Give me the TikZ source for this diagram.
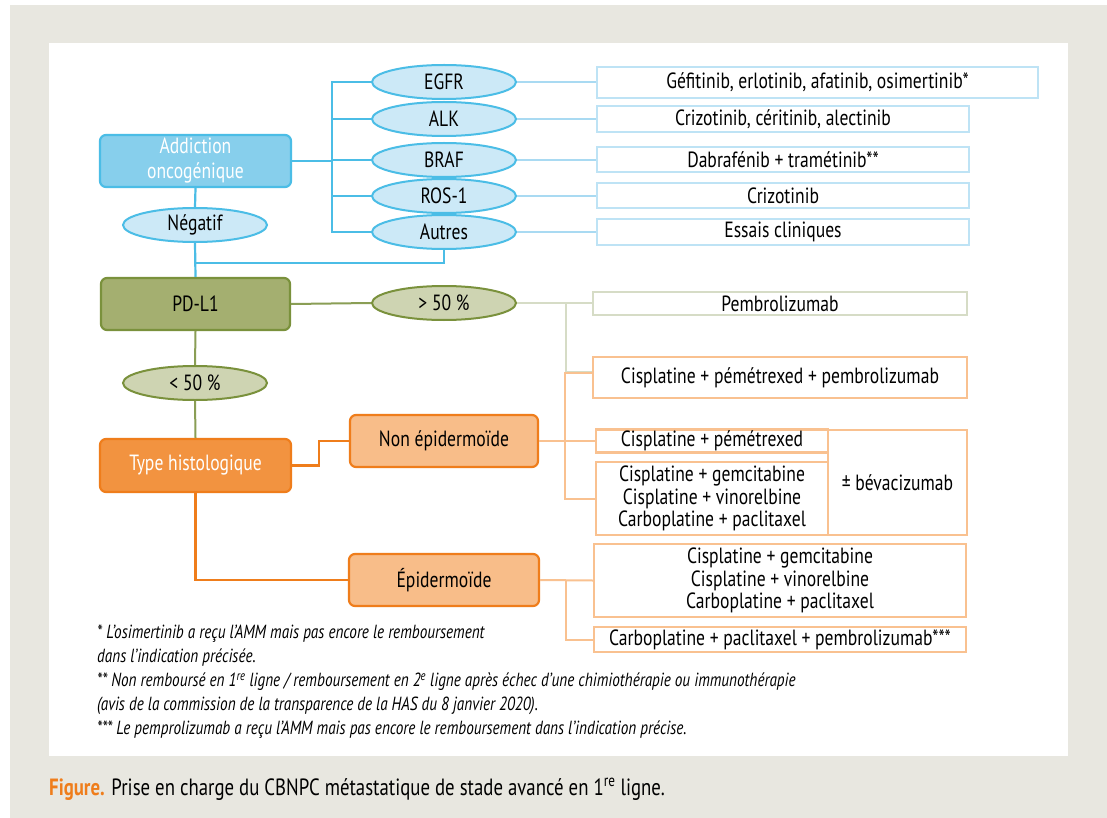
\documentclass[tikz,border=0pt]{standalone}
\usepackage{fontspec}
\setmainfont{PT Sans}[FakeStretch=0.8]
\usetikzlibrary{shapes.geometric}
\definecolor{bggray}{HTML}{E8E7E0}
\definecolor{cyanline}{HTML}{4BBDE6}
\definecolor{cyanfill}{HTML}{87CFEC}
\definecolor{cyanell}{HTML}{CCE9F7}
\definecolor{lbline}{HTML}{A9DAF2}
\definecolor{lbbox}{HTML}{BEE3F5}
\definecolor{olivefill}{HTML}{A4AF70}
\definecolor{olivedraw}{HTML}{7A913C}
\definecolor{olivell}{HTML}{CED4B2}
\definecolor{oliveline}{HTML}{8A9E55}
\definecolor{ggline}{HTML}{D6DCC6}
\definecolor{orgdraw}{HTML}{EF7D1B}
\definecolor{orgfill}{HTML}{F29340}
\definecolor{orglight}{HTML}{F8BD89}
\definecolor{orgbox}{HTML}{F9C190}
\newcommand{\mainfs}{\fontsize{22}{22.5}\selectfont}
\begin{document}
\begin{tikzpicture}[x=1pt,y=-1pt,
  every node/.style={inner sep=0pt, align=center, font=\mainfs},
  catbox/.style={rectangle, rounded corners=6pt, line width=2.2pt},
  ellbox/.style={ellipse, draw, line width=2pt, minimum width=144pt, minimum height=34pt},
  resbox/.style={rectangle, draw, fill=white, line width=2.4pt},
  blueres/.style={resbox, draw=lbbox},
  orgres/.style={resbox, draw=orgbox},
  blueconn/.style={draw=cyanline, line width=2.2pt},
  lbconn/.style={draw=lbline, line width=1.6pt},
  oliveconn/.style={draw=oliveline, line width=2pt},
  ggconn/.style={draw=ggline, line width=2pt},
  orgconn/.style={draw=orgdraw, line width=2.2pt},
  lorgconn/.style={draw=orgbox, line width=2pt}]
\useasboundingbox (0,0) rectangle (1107,818);
\fill[bggray] (10,5) rectangle (1107,818);
\fill[white] (49,43) rectangle (1068,756);

\coordinate (tr) at (332,0);
\coordinate (jn) at (196,263);

% ---- nodes
\node[catbox, draw=cyanline, fill=cyanfill, text=white, minimum width=191pt, minimum height=52pt, font=\fontsize{22}{25}\selectfont] (add) at (195.5,161) {Addiction\\oncogénique};
\node[ellbox, draw=cyanline, fill=cyanell] (neg) at (195,225) {Négatif};
\node[catbox, draw=olivedraw, fill=olivefill, minimum width=189pt, minimum height=52pt] (pdl) at (195.5,304) {PD-L1};
\node[ellbox, draw=olivedraw, fill=olivell] (lt) at (195,383) {< 50 \%};
\node[catbox, draw=orgdraw, fill=orgfill, text=white, minimum width=191pt, minimum height=53pt] (typ) at (195.5,465.5) {Type histologique};
\node[catbox, draw=orgdraw, fill=orglight, minimum width=188pt, minimum height=52pt] (non) at (444,441) {Non épidermoïde};
\node[catbox, draw=orgdraw, fill=orglight, minimum width=190pt, minimum height=52pt] (epi) at (444,580) {Épidermoïde};
\node[ellbox, draw=olivedraw, fill=olivell] (gt) at (444,303) {> 50 \%};

\node[ellbox, draw=cyanline, fill=cyanell] (egfr) at (444,82) {EGFR};
\node[ellbox, draw=cyanline, fill=cyanell] (alk) at (444,119) {ALK};
\node[ellbox, draw=cyanline, fill=cyanell] (braf) at (444,160) {BRAF};
\node[ellbox, draw=cyanline, fill=cyanell] (ros) at (444,196) {ROS-1};
\node[ellbox, draw=cyanline, fill=cyanell] (aut) at (444,232) {Autres};

\node[blueres, minimum width=441pt, minimum height=31pt] (regfr) at (817.5,82.5) {Géfitinib, erlotinib, afatinib, osimertinib*};
\node[blueres, minimum width=372pt, minimum height=26pt] (ralk) at (783,119) {Crizotinib, céritinib, alectinib};
\node[blueres, minimum width=372pt, minimum height=25pt] (rbraf) at (783,159.5) {Dabrafénib + tramétinib**};
\node[blueres, minimum width=372pt, minimum height=25pt] (rros) at (783,195.5) {Crizotinib};
\node[blueres, minimum width=372pt, minimum height=26pt] (raut) at (783,232) {Essais cliniques};

\node[resbox, draw=ggline, minimum width=374pt, minimum height=23pt] (pem) at (780,303.5) {Pembrolizumab};
\node[orgres, minimum width=374pt, minimum height=41pt] (cpp) at (780,377.5) {Cisplatine + pémétrexed + pembrolizumab};
\node[orgres, minimum width=232pt, minimum height=23pt] (cp) at (712,441) {Cisplatine + pémétrexed};
\node[orgres, minimum width=232pt, minimum height=73pt] (gem) at (712,498.5) {Cisplatine + gemcitabine\\Cisplatine + vinorelbine\\Carboplatine + paclitaxel};
\node[orgres, minimum width=139pt, minimum height=105pt] (bev) at (897.5,482.5) {± bévacizumab};
\node[orgres, minimum width=372pt, minimum height=73pt] (gemb) at (780,580.5) {Cisplatine + gemcitabine\\Cisplatine + vinorelbine\\Carboplatine + paclitaxel};
\node[orgres, minimum width=372pt, minimum height=25pt] (ppp) at (780,639.5) {Carboplatine + paclitaxel + pembrolizumab***};

% ---- connectors
\path[blueconn] (add.east) -- (add.east -| tr);
\path[blueconn] (egfr.west) -- (egfr.west -| tr) -- (aut.west -| tr) -- (aut.west);
\path[blueconn] (alk.west) -- (alk.west -| tr);
\path[blueconn] (braf.west) -- (braf.west -| tr);
\path[blueconn] (ros.west) -- (ros.west -| tr);
\path[blueconn] (add.south) -- (neg.north);
\path[blueconn] (neg.south) -- (pdl.north);
\path[blueconn] (aut.south) |- (jn);

\path[lbconn] (egfr.east) -- (egfr.east -| regfr.west);
\path[lbconn] (alk.east) -- (alk.east -| ralk.west);
\path[lbconn] (braf.east) -- (braf.east -| rbraf.west);
\path[lbconn] (ros.east) -- (ros.east -| rros.west);
\path[lbconn] (aut.east) -- (aut.east -| raut.west);

\path[oliveconn] (pdl.east) -- (gt.west);
\path[oliveconn] (pdl.south) -- (lt.north);
\path[oliveconn] (lt.south) -- (typ.north);

\path[ggconn] (gt.east) -- (gt.east -| pem.west);
\path[ggconn] ([xshift=-26pt]pem.west) |- ([yshift=6pt]cpp.west);

\path[orgconn] (typ.east) -- ++(27,0) |- (non.west);
\path[orgconn] (typ.south) |- (epi.west);

\path[lorgconn] (non.east) -- (cp.west);
\path[lorgconn] ([yshift=5pt]cpp.west) -- ++(-27,0) |- (gem.west);
\path[lorgconn] (epi.east) -- (gemb.west);
\path[lorgconn] ([xshift=-27pt]gemb.west) |- (ppp.west);

% ---- footnotes and caption
\node[anchor=north west, align=left, font=\itshape\fontsize{19}{24}\selectfont] (fn) at (97,625) {* L’osimertinib a reçu l’AMM mais pas encore le remboursement\\
dans l’indication précisée.\\
** Non remboursé en 1\textsuperscript{re} ligne / remboursement en 2\textsuperscript{e} ligne après échec d’une chimiothérapie ou immunothérapie\\
(avis de la commission de la transparence de la HAS du 8 janvier 2020).\\
*** Le pemprolizumab a reçu l’AMM mais pas encore le remboursement dans l’indication précise.};
\node[anchor=west, font=\fontsize{23.5}{26}\selectfont] (cap) at (49,789) {{\bfseries\color{orgdraw}Figure.} Prise en charge du CBNPC métastatique de stade avancé en 1\textsuperscript{re} ligne.};
\end{tikzpicture}
\end{document}
